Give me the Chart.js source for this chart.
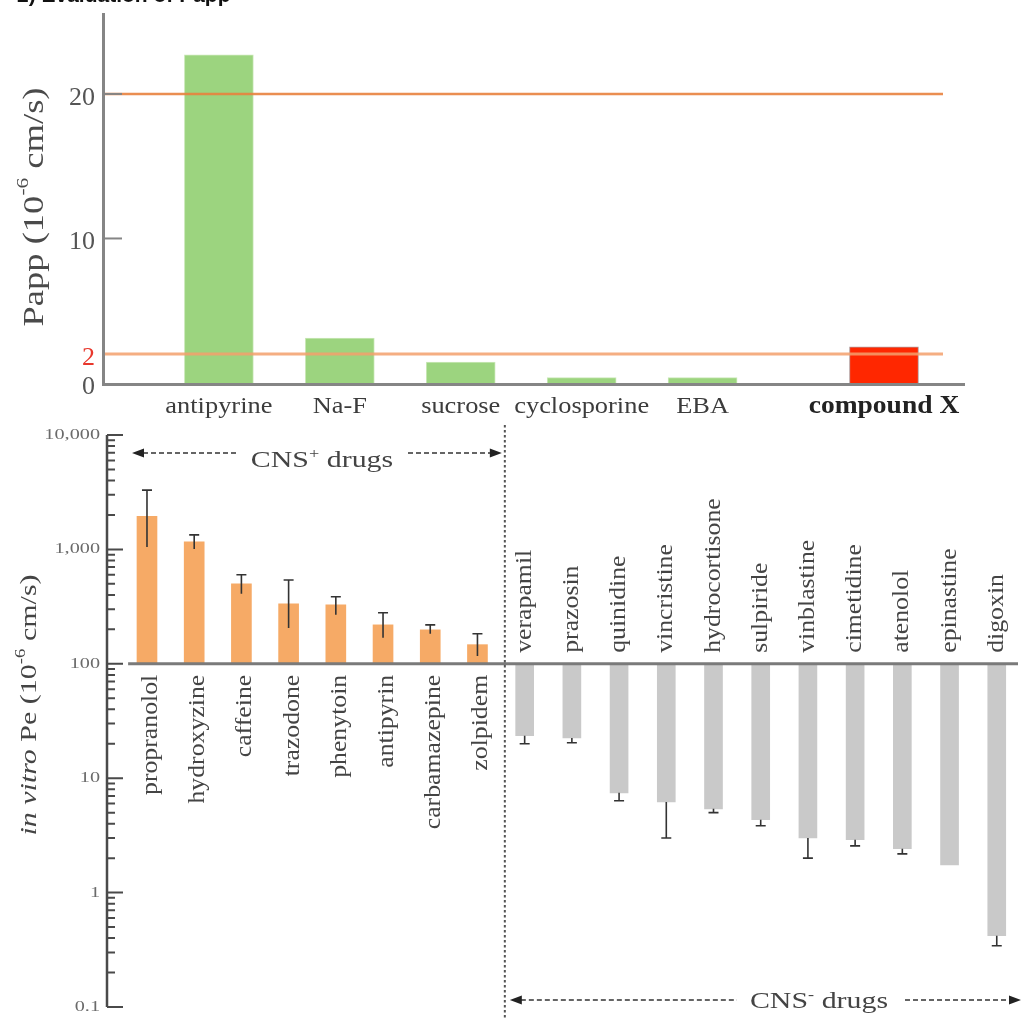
<!DOCTYPE html>
<html>
<head>
<meta charset="utf-8">
<script src="https://cdn.jsdelivr.net/npm/chart.js@4.4.1/dist/chart.umd.min.js"></script>
<style>
  html, body { margin: 0; padding: 0; background: #fff; }
  #page { position: relative; width: 1025px; height: 1020px; overflow: hidden; }
  #title { position: absolute; left: 17px; top: -17px; font: bold 21px 'Liberation Sans', Arial, sans-serif; color: #111; white-space: nowrap; }
  #papp { position: absolute; left: 0; top: 0; }
  #pe { position: absolute; left: 0; top: 420px; }
</style>
</head>
<body>
<div id="page">
  <canvas id="papp" width="1025" height="420"></canvas>
  <canvas id="pe" width="1025" height="600"></canvas>
  <div id="title">2) Evaluation of Papp</div>
</div>
<script>
// ---- top panel: Papp (blank slots keep the gap before compound X)
const pappLabels = ['antipyrine', '', 'Na-F', '', 'sucrose', '', 'cyclosporine', '', 'EBA', '', '', 'compound X'];
const pappValues = [22.7, null, 3.1, null, 1.45, null, 0.37, null, 0.37, null, null, 2.5];
const pappTicks = [0, 2, 10, 20];
const pappRefLines = [20, 2];

// ---- bottom panel: in vitro Pe
const cnsPlusDrugs = ['propranolol', 'hydroxyzine', 'caffeine', 'trazodone', 'phenytoin', 'antipyrin', 'carbamazepine', 'zolpidem'];
const cnsPlusPe = [1950, 1165, 500, 335, 328, 219, 198, 147];
const cnsPlusErrLow = [1050, 1010, 410, 206, 268, 169, 183, 117];
const cnsPlusErrHigh = [3300, 1340, 600, 540, 385, 279, 219, 183];

const cnsMinusDrugs = ['verapamil', 'prazosin', 'quinidine', 'vincristine', 'hydrocortisone', 'sulpiride', 'vinblastine', 'cimetidine', 'atenolol', 'epinastine', 'digoxin'];
const cnsMinusPe = [23.5, 22.5, 7.45, 6.2, 5.4, 4.33, 3.0, 2.9, 2.42, 1.75, 0.42];
const cnsMinusErrLow = [20.0, 20.4, 6.35, 3.0, 5.0, 3.84, 2.0, 2.56, 2.18, null, 0.343];

const peTicks = [0.1, 1, 10, 100, 1000, 10000];
const peTickLabels = ['0.1', '1', '10', '100', '1,000', '10,000'];
const peBase = 100;

const SERIF = "'Liberation Serif', 'Times New Roman', serif";

// draw a run of text pieces (for superscripts), optionally rotated / stretched
function drawText(ctx, parts, x, y, o) {
  ctx.save();
  ctx.translate(x, y);
  if (o.rot) ctx.rotate(o.rot);
  ctx.scale(o.sx || 1, 1);
  ctx.fillStyle = o.color || '#444';
  ctx.textBaseline = o.base || 'alphabetic';
  ctx.textAlign = 'left';
  let w = 0;
  parts.forEach(p => { ctx.font = p[1]; w += ctx.measureText(p[0]).width; });
  let cx = o.align === 'center' ? -w / 2 : o.align === 'right' ? -w : 0;
  parts.forEach(p => {
    ctx.font = p[1];
    ctx.fillText(p[0], cx, p[2] || 0);
    cx += ctx.measureText(p[0]).width;
  });
  ctx.restore();
}

const pappDecor = {
  id: 'pappDecor',
  afterDatasetsDraw(chart) {
    const { ctx, chartArea: a, scales: { x, y } } = chart;
    ctx.save();
    // threshold lines
    pappRefLines.forEach((v, i) => {
      const py = y.getPixelForValue(v);
      ctx.strokeStyle = i === 0 ? 'rgba(232,130,62,0.9)' : 'rgba(243,160,108,0.85)';
      ctx.lineWidth = i === 0 ? 2.5 : 3;
      ctx.beginPath();
      ctx.moveTo(a.left, py);
      ctx.lineTo(a.right - 22, py);
      ctx.stroke();
    });
    // axes
    ctx.strokeStyle = '#858585';
    ctx.lineWidth = 3;
    ctx.beginPath();
    ctx.moveTo(a.left - 0.5, a.top);
    ctx.lineTo(a.left - 0.5, a.bottom + 1.5);
    ctx.lineTo(a.right, a.bottom + 1.5);
    ctx.stroke();
    ctx.lineWidth = 2;
    [10, 20].forEach(v => {
      const py = y.getPixelForValue(v);
      ctx.beginPath();
      ctx.moveTo(a.left, py);
      ctx.lineTo(a.left + 18, py);
      ctx.stroke();
    });
    ctx.restore();

    pappTicks.forEach(v => {
      drawText(ctx, [[String(v), '26px ' + SERIF]], a.left - 9, y.getPixelForValue(v) + 4,
        { align: 'right', base: 'middle', color: v === 2 ? '#e8372c' : '#555' });
    });

    pappLabels.forEach((l, i) => {
      if (!l) return;
      const bold = l === 'compound X';
      drawText(ctx, [[l, (bold ? 'bold 25px ' : '24px ') + SERIF]], x.getPixelForValue(i), 413,
        { align: 'center', sx: 1.1, color: bold ? '#222' : '#3c3c3c' });
    });

    drawText(ctx, [['Papp (10', '29px ' + SERIF], ['-6', '17px ' + SERIF, -11], [' cm/s)', '29px ' + SERIF]],
      35, 207, { rot: -Math.PI / 2, align: 'center', base: 'middle', sx: 1.26, color: '#4a4a4a' });
  }
};

const pappData = pappLabels.map((l, i) => ({ x: i, y: pappValues[i] })).filter(d => d.y !== null);

new Chart(document.getElementById('papp'), {
  type: 'bar',
  data: {
    datasets: [{
      data: pappData,
      backgroundColor: pappData.map(d => pappLabels[d.x] === 'compound X' ? '#ff2700' : '#9cd47f'),
      borderColor: pappData.map(d => pappLabels[d.x] === 'compound X' ? '#b09a9a' : '#cbe8b9'),
      borderWidth: 1,
      barThickness: 69
    }]
  },
  options: {
    responsive: false,
    animation: false,
    events: [],
    layout: { padding: { left: 104, right: 60, top: 13, bottom: 37 } },
    scales: {
      x: { type: 'linear', display: false, offset: false, min: -1.9, max: 12.34 },
      y: { display: false, min: 0, max: 25.6 }
    },
    plugins: { legend: { display: false }, tooltip: { enabled: false } }
  },
  plugins: [pappDecor]
});

function dashedArrow(ctx, x1, x2, y, gapL, gapR) {
  ctx.save();
  ctx.strokeStyle = '#333';
  ctx.fillStyle = '#222';
  ctx.lineWidth = 1.6;
  ctx.setLineDash([5, 3]);
  ctx.beginPath();
  ctx.moveTo(x1 + 11, y); ctx.lineTo(gapL, y);
  ctx.moveTo(gapR, y); ctx.lineTo(x2 - 11, y);
  ctx.stroke();
  ctx.setLineDash([]);
  ctx.beginPath();
  ctx.moveTo(x1, y); ctx.lineTo(x1 + 12, y - 4.5); ctx.lineTo(x1 + 12, y + 4.5); ctx.closePath();
  ctx.moveTo(x2, y); ctx.lineTo(x2 - 12, y - 4.5); ctx.lineTo(x2 - 12, y + 4.5); ctx.closePath();
  ctx.fill();
  ctx.restore();
}

const peDecor = {
  id: 'peDecor',
  afterDatasetsDraw(chart) {
    const { ctx, chartArea: a, scales: { x, y } } = chart;
    const yBase = y.getPixelForValue(peBase);
    const nPlus = cnsPlusDrugs.length;
    ctx.save();

    // baseline at 100
    ctx.strokeStyle = '#7a7a7a';
    ctx.lineWidth = 3;
    ctx.beginPath();
    ctx.moveTo(x.getPixelForValue(-0.4), yBase);
    ctx.lineTo(a.right, yBase);
    ctx.stroke();

    // error bars
    ctx.strokeStyle = '#333';
    ctx.lineWidth = 1.6;
    cnsPlusDrugs.forEach((d, i) => {
      const px = x.getPixelForValue(i);
      const lo = y.getPixelForValue(cnsPlusErrLow[i]);
      const hi = y.getPixelForValue(cnsPlusErrHigh[i]);
      ctx.beginPath();
      ctx.moveTo(px, lo); ctx.lineTo(px, hi);
      ctx.moveTo(px - 5, hi); ctx.lineTo(px + 5, hi);
      ctx.stroke();
    });
    cnsMinusDrugs.forEach((d, i) => {
      if (cnsMinusErrLow[i] == null) return;
      const px = x.getPixelForValue(nPlus + i);
      const end = y.getPixelForValue(cnsMinusPe[i]);
      const lo = y.getPixelForValue(cnsMinusErrLow[i]);
      ctx.beginPath();
      ctx.moveTo(px, end); ctx.lineTo(px, lo);
      ctx.moveTo(px - 5, lo); ctx.lineTo(px + 5, lo);
      ctx.stroke();
    });

    // log axis with minor ticks
    ctx.strokeStyle = '#4a4a4a';
    ctx.lineWidth = 2.5;
    ctx.beginPath();
    ctx.moveTo(a.left, a.top);
    ctx.lineTo(a.left, a.bottom);
    ctx.stroke();
    ctx.lineWidth = 2;
    ctx.beginPath();
    for (let k = -1; k <= 4; k++) {
      const dec = Math.pow(10, k);
      const py = y.getPixelForValue(dec);
      ctx.moveTo(a.left, py); ctx.lineTo(a.left + 16, py);
      if (k < 4) {
        for (let m = 2; m <= 9; m++) {
          const pm = y.getPixelForValue(m * dec);
          ctx.moveTo(a.left, pm); ctx.lineTo(a.left + 8, pm);
        }
      }
    }
    ctx.stroke();
    ctx.restore();

    peTicks.forEach((v, i) => {
      drawText(ctx, [[peTickLabels[i], '15px ' + SERIF]], a.left - 7, y.getPixelForValue(v),
        { align: 'right', base: 'middle', sx: 1.35, color: '#6a6a6a' });
    });

    // drug names
    cnsPlusDrugs.forEach((d, i) => {
      drawText(ctx, [[d, '23px ' + SERIF]], x.getPixelForValue(i) + 4, yBase + 11,
        { rot: -Math.PI / 2, align: 'right', base: 'middle', sx: 1.12, color: '#444' });
    });
    cnsMinusDrugs.forEach((d, i) => {
      drawText(ctx, [[d, '23px ' + SERIF]], x.getPixelForValue(nPlus + i), yBase - 11,
        { rot: -Math.PI / 2, align: 'left', base: 'middle', sx: 1.12, color: '#444' });
    });

    // CNS+ / CNS- divider
    const xDiv = x.getPixelForValue(nPlus - 0.42);
    ctx.save();
    ctx.strokeStyle = '#555';
    ctx.lineWidth = 2;
    ctx.setLineDash([2.5, 2.5]);
    ctx.beginPath();
    ctx.moveTo(xDiv, 5);
    ctx.lineTo(xDiv, chart.height);
    ctx.stroke();
    ctx.restore();

    dashedArrow(ctx, a.left + 25, xDiv - 3, 33, 237, 408);
    drawText(ctx, [['CNS', '23px ' + SERIF], ['+', '14px ' + SERIF, -9], [' drugs', '23px ' + SERIF]],
      322, 47, { align: 'center', sx: 1.3, color: '#444' });

    dashedArrow(ctx, xDiv + 5, a.right + 3, 580, 737, 905);
    drawText(ctx, [['CNS', '23px ' + SERIF], ['-', '14px ' + SERIF, -9], [' drugs', '23px ' + SERIF]],
      819, 588, { align: 'center', sx: 1.3, color: '#444' });

    drawText(ctx, [['in vitro', 'italic 24px ' + SERIF], [' Pe (10', '24px ' + SERIF], ['-6', '15px ' + SERIF, -9], [' cm/s)', '24px ' + SERIF]],
      30, 285, { rot: -Math.PI / 2, align: 'center', base: 'middle', sx: 1.25, color: '#444' });
  }
};

new Chart(document.getElementById('pe'), {
  type: 'bar',
  data: {
    datasets: [{
      label: 'CNS+',
      data: cnsPlusPe.map((v, i) => ({ x: i, y: [peBase, v] })),
      backgroundColor: '#f6aa66',
      barThickness: 20,
      grouped: false
    }, {
      label: 'CNS-',
      data: cnsMinusPe.map((v, i) => ({ x: cnsPlusDrugs.length + i, y: [peBase, v] })),
      backgroundColor: '#c9c9c9',
      barThickness: 18,
      grouped: false
    }]
  },
  options: {
    responsive: false,
    animation: false,
    events: [],
    layout: { padding: { left: 107, right: 7, top: 15, bottom: 13 } },
    scales: {
      x: { type: 'linear', display: false, offset: false, min: -0.847, max: 18.45 },
      y: { type: 'logarithmic', display: false, min: 0.1, max: 10000 }
    },
    plugins: { legend: { display: false }, tooltip: { enabled: false } }
  },
  plugins: [peDecor]
});
</script>
</body>
</html>
